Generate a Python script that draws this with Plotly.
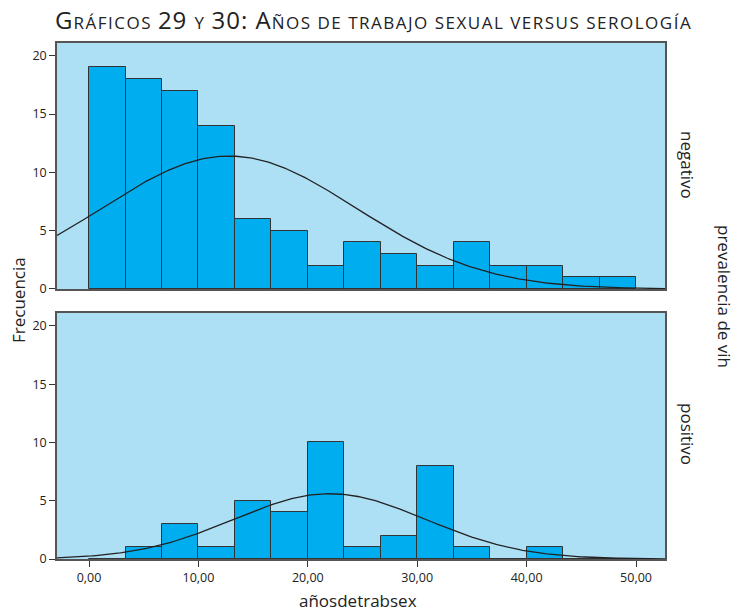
import numpy as np
import plotly.graph_objects as go

# ---- data ----
bin_edges = [0.0, 3.333, 6.667, 10.0, 13.333, 16.667, 20.0, 23.333, 26.667,
             30.0, 33.333, 36.667, 40.0, 43.333, 46.667, 50.0]
neg_counts = [19, 18, 17, 14, 6, 5, 2, 4, 3, 2, 4, 2, 2, 1, 1]
pos_counts = [0, 1, 3, 1, 5, 4, 10, 1, 2, 8, 1, 0, 1, 0, 0]
# fitted normal parameters (mean, sd) for each group
neg_mean, neg_sd = 12.8, 11.66
pos_mean, pos_sd = 22.0, 8.79
x_tickvals = [0, 10, 20, 30, 40, 50]
x_ticklabels = ["0,00", "10,00", "20,00", "30,00", "40,00", "50,00"]
y_tickvals = [0, 5, 10, 15, 20]

centers = [(a + b) / 2 for a, b in zip(bin_edges[:-1], bin_edges[1:])]
widths = [b - a for a, b in zip(bin_edges[:-1], bin_edges[1:])]
bw = widths[0]
xr = [-2.93, 52.65]
xs = np.linspace(xr[0], xr[1], 300)


def normal_curve(counts, mu, sd):
    n = sum(counts)
    return n * bw / (sd * np.sqrt(2 * np.pi)) * np.exp(-0.5 * ((xs - mu) / sd) ** 2)


BAR = "#00AEEF"
BG = "#ADDFF5"
EDGE = "#333333"
FONT = "Open Sans"

W, H = 738, 611
ML, MR, MT, MB = 57, 73, 43, 52
PW, PH = W - ML - MR, H - MT - MB


def px_to_paper(px, py):
    return (px - ML) / PW, 1 - (py - MT) / PH


fig = go.Figure()
for counts, mu, sd, xa, ya in [(neg_counts, neg_mean, neg_sd, "x2", "y2"),
                               (pos_counts, pos_mean, pos_sd, "x", "y")]:
    fig.add_trace(go.Bar(x=centers, y=counts, width=widths, xaxis=xa, yaxis=ya,
                         marker=dict(color=BAR, line=dict(color=EDGE, width=1)),
                         showlegend=False, hoverinfo="x+y"))
    fig.add_trace(go.Scatter(x=xs, y=normal_curve(counts, mu, sd), mode="lines",
                             xaxis=xa, yaxis=ya, line=dict(color="#222222", width=1.3),
                             showlegend=False, hoverinfo="skip"))

axis_common = dict(showline=True, linecolor="#555555", linewidth=1.5, mirror=True,
                   showgrid=False, zeroline=False)
yax = dict(range=[0, 21.1], tickvals=y_tickvals, ticks="outside", ticklen=6,
           tickcolor="#333333", tickfont=dict(size=12.5, color="#222222", family=FONT),
           **axis_common)

BIG = "<span style='font-size:24px; letter-spacing:1px'>{}</span>"
SC = "<span style='font-size:17px; letter-spacing:1.5px'>{}</span>"
title = (BIG.format("G") + SC.format("RÁFICOS ") + BIG.format("29 ") + SC.format("Y ")
         + BIG.format("30: A") + SC.format("ÑOS DE TRABAJO SEXUAL VERSUS SEROLOGÍA"))


def ann(text, px, py, angle=0, size=17, xanchor="center"):
    x, y = px_to_paper(px, py)
    return dict(text=text, x=x, y=y, xref="paper", yref="paper", showarrow=False,
                xanchor=xanchor, yanchor="middle", textangle=angle,
                font=dict(size=size, family=FONT, color="#222222"))


fig.update_layout(
    width=W, height=H,
    margin=dict(l=ML, r=MR, t=MT, b=MB, autoexpand=False),
    paper_bgcolor="white", plot_bgcolor=BG,
    bargap=0,
    font=dict(family=FONT, color="#222222"),
    xaxis=dict(domain=[0, 1], range=xr, anchor="y", tickvals=x_tickvals,
               ticktext=x_ticklabels, ticks="outside", ticklen=6, tickcolor="#333333",
               tickfont=dict(size=12.5, color="#222222", family=FONT), automargin=False,
               **axis_common),
    yaxis=dict(domain=[0, 0.4767], anchor="x", automargin=False, **yax),
    xaxis2=dict(domain=[0, 1], range=xr, anchor="y2", showticklabels=False,
                ticks="", automargin=False, **axis_common),
    yaxis2=dict(domain=[0.5233, 1], anchor="x2", automargin=False, **yax),
    shapes=[dict(type="rect", xref="x2 domain", yref="y2 domain", x0=0, x1=1, y0=0, y1=1,
                 fillcolor=BG, line=dict(width=0), layer="below"),
            dict(type="rect", xref="x domain", yref="y domain", x0=0, x1=1, y0=0, y1=1,
                 fillcolor=BG, line=dict(width=0), layer="below")],
    annotations=[
        ann(title, 53, 20, size=24, xanchor="left"),
        ann("negativo", 688, 165, angle=90),
        ann("positivo", 688, 434, angle=90),
        ann("prevalencia de vih", 725, 296, angle=90),
        ann("Frecuencia", 18, 300, angle=-90),
        ann("añosdetrabsex", 358, 600),
    ],
)

fig.write_html("out.html", config={"displayModeBar": False},
               post_script="document.body.style.margin='0px';")
